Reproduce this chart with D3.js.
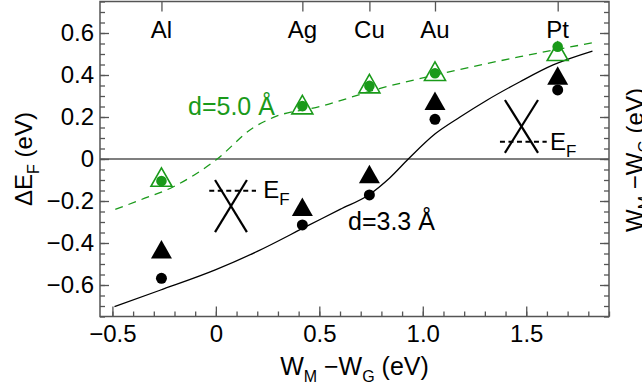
<!DOCTYPE html>
<html>
<head>
<meta charset="utf-8">
<title>Fermi level shift</title>
<script src="https://d3js.org/d3.v7.min.js"></script>
<style>
  body { margin: 0; background: #fff; }
  svg text { font-family: "Liberation Sans", Arial, Helvetica, sans-serif; fill: #000; }
  .tick text { font-size: 24px; }
  .frame, .zero { fill: none; stroke: #555; stroke-width: 1.5px; }
  .axis path { display: none; }
  .axis line { stroke: #555; stroke-width: 1.3px; }
</style>
</head>
<body>
<div id="chart"></div>
<script>
// metals and their work-function difference W_M - W_G (eV)
var metals = ["Al", "Ag", "Cu", "Au", "Pt"];
var metalDW = [-0.263, 0.418, 0.742, 1.059, 1.652];

// d = 5.0 A (green): open triangles and filled dots
var greenTri = [-0.086, 0.259, 0.359, 0.418, 0.513];
var greenDot = [-0.105, 0.252, 0.348, 0.408, 0.535];
// d = 3.3 A (black): filled triangles and filled dots
var blackTri = [-0.43, -0.227, -0.071, 0.277, 0.398];
var blackDot = [-0.568, -0.314, -0.171, 0.189, 0.329];

// model curves
var greenCurveX = [-0.486, -0.365, -0.205, 0.0, 0.182, 0.278, 0.504, 0.794, 1.06, 1.47, 1.824];
var greenCurveY = [-0.24, -0.195, -0.132, -0.005, 0.15, 0.198, 0.25, 0.336, 0.40, 0.487, 0.554];
var blackCurveX = [-0.49, -0.27, 0.0, 0.2, 0.44, 0.6, 0.74, 0.84, 0.93, 1.06, 1.18, 1.31, 1.47, 1.63, 1.82];
var blackCurveY = [-0.703, -0.625, -0.527, -0.44, -0.32, -0.24, -0.17, -0.09, 0.0, 0.12, 0.20, 0.28, 0.368, 0.448, 0.514];

// axis ticks
var xMajor = [-0.5, 0, 0.5, 1.0, 1.5];
var yMajor = [-0.6, -0.4, -0.2, 0, 0.2, 0.4, 0.6];

var width = 642, height = 389;
var green = "#1a9a1a";

var x = d3.scaleLinear().domain([-0.56, 1.9]).range([100, 609]);
var y = d3.scaleLinear().domain([-0.75, 0.75]).range([316.5, 1.5]);

var svg = d3.select("#chart").append("svg")
    .attr("width", width).attr("height", height);

var fmt = function(d) { return d === 0 ? "0" : d3.format(".1f")(d); };
var xMinor = d3.range(-0.5, 1.9001, 0.1).map(function(d) { return +d.toFixed(2); });
var yMinor = d3.range(-0.75, 0.7501, 0.05).map(function(d) { return +d.toFixed(2); });

// zero line
svg.append("line").attr("class", "zero")
    .attr("x1", x(-0.56)).attr("x2", x(1.9))
    .attr("y1", y(0)).attr("y2", y(0));

// axes (ticks point inward)
svg.append("g").attr("class", "axis").attr("transform", "translate(0," + y(-0.75) + ")")
    .call(d3.axisBottom(x).tickValues(xMinor).tickSize(-5).tickFormat(""));
svg.append("g").attr("class", "axis").attr("transform", "translate(0," + y(-0.75) + ")")
    .call(d3.axisBottom(x).tickValues(xMajor).tickSize(-10).tickPadding(8).tickFormat(fmt));

svg.append("g").attr("class", "axis").attr("transform", "translate(" + x(-0.56) + ",0)")
    .call(d3.axisLeft(y).tickValues(yMinor).tickSize(-5).tickFormat(""));
svg.append("g").attr("class", "axis").attr("transform", "translate(" + x(-0.56) + ",0)")
    .call(d3.axisLeft(y).tickValues(yMajor).tickSize(-9).tickPadding(6).tickFormat(fmt));

svg.append("g").attr("class", "axis").attr("transform", "translate(" + x(1.9) + ",0)")
    .call(d3.axisRight(y).tickValues(yMinor).tickSize(-5).tickFormat(""));
svg.append("g").attr("class", "axis").attr("transform", "translate(" + x(1.9) + ",0)")
    .call(d3.axisRight(y).tickValues(yMajor).tickSize(-9).tickFormat(""));

svg.append("g").attr("class", "axis").attr("transform", "translate(0," + y(0.75) + ")")
    .call(d3.axisTop(x).tickValues(metalDW).tickSize(-10).tickFormat(""));

svg.selectAll(".tick text").attr("fill", "#000");

// frame
svg.append("rect").attr("class", "frame")
    .attr("x", x(-0.56)).attr("y", y(0.75))
    .attr("width", x(1.9) - x(-0.56)).attr("height", y(-0.75) - y(0.75));

// metal labels
svg.selectAll("text.metal").data(metals).enter().append("text")
    .attr("class", "metal")
    .attr("x", function(d, i) { return x(metalDW[i]); })
    .attr("y", 38)
    .attr("text-anchor", "middle")
    .style("font-size", "24px")
    .text(function(d) { return d; });

// curves
var line = d3.line()
    .x(function(d) { return x(d[0]); })
    .y(function(d) { return y(d[1]); })
    .curve(d3.curveMonotoneX);

svg.append("path")
    .datum(d3.zip(blackCurveX, blackCurveY))
    .attr("d", line)
    .attr("fill", "none").attr("stroke", "#000").attr("stroke-width", 1.3);

svg.append("path")
    .datum(d3.zip(greenCurveX, greenCurveY))
    .attr("d", line)
    .attr("fill", "none").attr("stroke", green).attr("stroke-width", 1.3)
    .attr("stroke-dasharray", "8,6");

// markers
function tri(cx, cy, w, h) {
  return "M" + cx + "," + (cy - h / 2) +
         "L" + (cx + w / 2) + "," + (cy + h / 2) +
         "L" + (cx - w / 2) + "," + (cy + h / 2) + "Z";
}

svg.selectAll("path.btri").data(blackTri).enter().append("path")
    .attr("class", "btri")
    .attr("d", function(d, i) { return tri(x(metalDW[i]), y(d), 21, 18.5); })
    .attr("fill", "#000");

svg.selectAll("circle.bdot").data(blackDot).enter().append("circle")
    .attr("class", "bdot")
    .attr("cx", function(d, i) { return x(metalDW[i]); })
    .attr("cy", function(d) { return y(d); })
    .attr("r", 5.5).attr("fill", "#000");

svg.selectAll("path.gtri").data(greenTri).enter().append("path")
    .attr("class", "gtri")
    .attr("d", function(d, i) { return tri(x(metalDW[i]), y(d), 21, 18.5); })
    .attr("fill", "none").attr("stroke", green).attr("stroke-width", 1.6);

svg.selectAll("circle.gdot").data(greenDot).enter().append("circle")
    .attr("class", "gdot")
    .attr("cx", function(d, i) { return x(metalDW[i]); })
    .attr("cy", function(d) { return y(d); })
    .attr("r", 5.3).attr("fill", green);

// curve labels
svg.append("text").attr("x", 188).attr("y", 115)
    .style("font-size", "25px").style("fill", green)
    .text("d=5.0 Å");
svg.append("text").attr("x", 348).attr("y", 230)
    .style("font-size", "25px")
    .text("d=3.3 Å");

// band-crossing sketches with the Fermi level
function sketch(cx, cy, hw, hh, ef, x0, x1, lx, ly) {
  var g = svg.append("g");
  g.append("line").attr("x1", x(cx - hw)).attr("y1", y(cy + hh))
      .attr("x2", x(cx + hw)).attr("y2", y(cy - hh));
  g.append("line").attr("x1", x(cx + hw)).attr("y1", y(cy + hh))
      .attr("x2", x(cx - hw)).attr("y2", y(cy - hh));
  g.selectAll("line").attr("stroke", "#000").attr("stroke-width", 2.2);
  g.append("line").attr("x1", x(x0)).attr("x2", x(x1))
      .attr("y1", y(ef)).attr("y2", y(ef))
      .attr("stroke", "#000").attr("stroke-width", 2)
      .attr("stroke-dasharray", "5,3.5");
  var t = g.append("text").attr("x", x(lx)).attr("y", y(ly)).style("font-size", "24px");
  t.append("tspan").text("E");
  t.append("tspan").attr("dy", 7).style("font-size", "17px").text("F");
}
sketch(0.073, -0.224, 0.077, 0.124, -0.151, -0.032, 0.194, 0.229, -0.187);
sketch(1.477, 0.155, 0.08, 0.126, 0.082, 1.373, 1.599, 1.615, 0.043);

// axis titles
function wTitle(t) {
  t.append("tspan").text("W");
  t.append("tspan").attr("dy", 6.5).style("font-size", "16px").text("M");
  t.append("tspan").attr("dy", -6.5).text(" \u2212W");
  t.append("tspan").attr("dy", 6.5).style("font-size", "16px").text("G");
  t.append("tspan").attr("dy", -6.5).text(" (eV)");
}
var xt = svg.append("text").attr("x", (x(-0.56) + x(1.9)) / 2).attr("y", 375)
    .attr("text-anchor", "middle").style("font-size", "25px");
wTitle(xt);

// second copy of the x title, rotated at the right edge (cut off, as in the original)
var rt = svg.append("text")
    .attr("transform", "translate(643," + (y(0) + 1) + ") rotate(-90)")
    .attr("text-anchor", "middle").style("font-size", "24px");
wTitle(rt);

var yt = svg.append("text")
    .attr("transform", "translate(32," + y(0) + ") rotate(-90)")
    .attr("text-anchor", "middle").style("font-size", "24px");
yt.append("tspan").text("\u0394E");
yt.append("tspan").attr("dy", 6.5).style("font-size", "16px").text("F");
yt.append("tspan").attr("dy", -6.5).text(" (eV)");
</script>
</body>
</html>
